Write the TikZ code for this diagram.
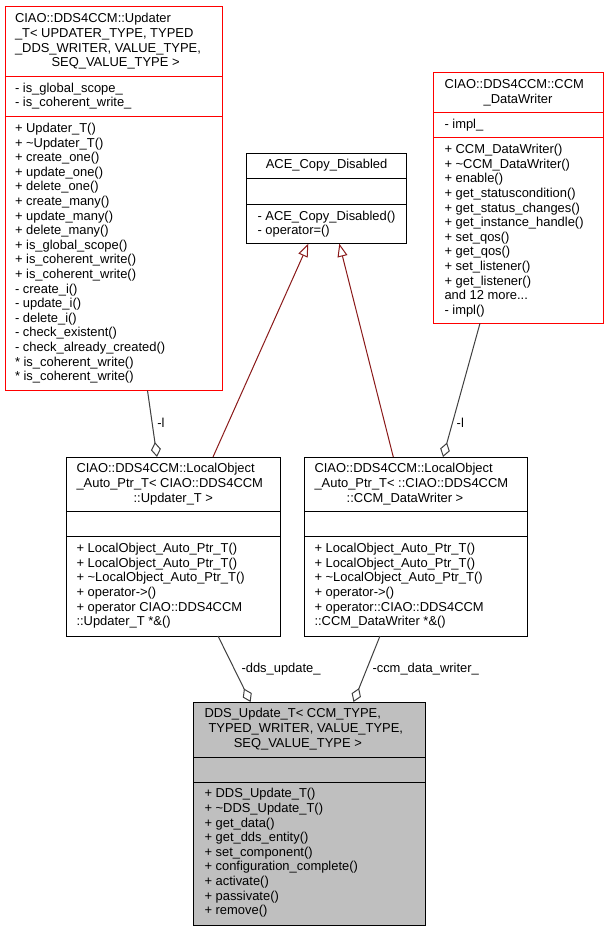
\documentclass[tikz,border=0pt]{standalone}
\usepackage{fontspec}
\setmainfont{Liberation Sans}
\usetikzlibrary{arrows.meta,calc}
\definecolor{umlred}{HTML}{FF0000}
\definecolor{edgegrey}{HTML}{404040}
\definecolor{inhred}{HTML}{8B1A1A}
\definecolor{boxgrey}{HTML}{BFBFBF}
\newcommand\mydots{...}
\tikzset{
  cls/.style={draw=black, line width=0.75pt, anchor=north west, inner sep=0pt, outer sep=0pt},
  ln/.style={anchor=base west, inner sep=0pt, outer sep=0pt, font=\fontsize{9.7}{11.6}\selectfont},
  cln/.style={ln, anchor=base},
  divider/.style={line width=0.75pt},
  agg/.style={draw=edgegrey, line width=0.75pt, {Diamond[open,length=11.25pt,width=7.5pt]}-},
  inh/.style={draw=inhred, line width=0.75pt, -{Triangle[open,length=9.75pt,width=7.5pt]}},
}
\begin{document}
\begin{tikzpicture}[x=0.75pt,y=-0.75pt]
\fill[white] (0,0) rectangle (608,931);
\useasboundingbox (0,0) rectangle (608,931);

% ---------- Updater_T ----------
\node[cls, draw=umlred, minimum width=217*0.75pt, minimum height=383.5*0.75pt] (upd) at (5,7) {};
\draw[divider, umlred] (5,76.3) -- (222,76.3);
\draw[divider, umlred] (5,116.5) -- (222,116.5);
\foreach \t [count=\i from 0] in {{CIAO::DDS4CCM::Updater},{\_T< UPDATER\_TYPE, TYPED},{\_DDS\_WRITER, VALUE\_TYPE,}}
  \node[ln] (updT\i) at (15,23+14.6*\i) {\t};
\node[cln] (updT3) at (115.6,66.8) {SEQ\_VALUE\_TYPE >};
\foreach \t [count=\i from 0] in {{- is\_global\_scope\_},{- is\_coherent\_write\_}}
  \node[ln] (updA\i) at (15,92.2+14.6*\i) {\t};
\foreach \t [count=\i from 0] in {{+ Updater\_T()},{+ \textasciitilde Updater\_T()},{+ create\_one()},{+ update\_one()},{+ delete\_one()},{+ create\_many()},{+ update\_many()},{+ delete\_many()},{+ is\_global\_scope()},{+ is\_coherent\_write()},{+ is\_coherent\_write()},{- create\_i()},{- update\_i()},{- delete\_i()},{- check\_existent()},{- check\_already\_created()},{* is\_coherent\_write()},{* is\_coherent\_write()}}
  \node[ln] (updM\i) at (15,132.4+14.6*\i) {\t};

% ---------- ACE_Copy_Disabled ----------
\node[cls, minimum width=160*0.75pt, minimum height=90.7*0.75pt] (ace) at (246.5,153) {};
\draw[divider] (246.5,178.7) -- (406.5,178.7);
\draw[divider] (246.5,204.2) -- (406.5,204.2);
\node[cln] (aceT) at (326.6,168.9) {ACE\_Copy\_Disabled};
\foreach \t [count=\i from 0] in {{- ACE\_Copy\_Disabled()},{- operator=()}}
  \node[ln] (aceM\i) at (257.5,220.1+14.6*\i) {\t};

% ---------- CCM_DataWriter ----------
\node[cls, draw=umlred, minimum width=169.7*0.75pt, minimum height=250.6*0.75pt] (ccm) at (433.3,72.7) {};
\draw[divider, umlred] (433.3,112.3) -- (603,112.3);
\draw[divider, umlred] (433.3,137.7) -- (603,137.7);
\node[ln] (ccmT0) at (444.5,88.6) {CIAO::DDS4CCM::CCM};
\node[cln] (ccmT1) at (518,103.2) {\_DataWriter};
\node[ln] (ccmA0) at (444.5,128.2) {- impl\_};
\foreach \t [count=\i from 0] in {{+ CCM\_DataWriter()},{+ \textasciitilde CCM\_DataWriter()},{+ enable()},{+ get\_statuscondition()},{+ get\_status\_changes()},{+ get\_instance\_handle()},{+ set\_qos()},{+ get\_qos()},{+ set\_listener()},{+ get\_listener()},{and 12 more\mydots},{- impl()}}
  \node[ln] (ccmM\i) at (444.5,153.6+14.6*\i) {\t};

% ---------- LocalObject_Auto_Ptr_T< Updater_T > ----------
\node[cls, minimum width=214*0.75pt, minimum height=179*0.75pt] (lo1) at (66,457) {};
\draw[divider] (66,511.8) -- (280,511.8);
\draw[divider] (66,536.8) -- (280,536.8);
\foreach \t [count=\i from 0] in {{CIAO::DDS4CCM::LocalObject},{\_Auto\_Ptr\_T< CIAO::DDS4CCM}}
  \node[ln] (lo1T\i) at (76.5,472.9+14.6*\i) {\t};
\node[cln] (lo1T2) at (173.3,502.1) {::Updater\_T >};
\foreach \t [count=\i from 0] in {{+ LocalObject\_Auto\_Ptr\_T()},{+ LocalObject\_Auto\_Ptr\_T()},{+ \textasciitilde LocalObject\_Auto\_Ptr\_T()},{+ operator->()},{+ operator CIAO::DDS4CCM},{::Updater\_T *\&()}}
  \node[ln] (lo1M\i) at (76.5,552.7+14.6*\i) {\t};

% ---------- LocalObject_Auto_Ptr_T< CCM_DataWriter > ----------
\node[cls, minimum width=222.7*0.75pt, minimum height=179*0.75pt] (lo2) at (304.3,457) {};
\draw[divider] (304.3,511.8) -- (527,511.8);
\draw[divider] (304.3,536.8) -- (527,536.8);
\foreach \t [count=\i from 0] in {{CIAO::DDS4CCM::LocalObject},{\_Auto\_Ptr\_T< ::CIAO::DDS4CCM}}
  \node[ln] (lo2T\i) at (314.5,472.9+14.6*\i) {\t};
\node[cln] (lo2T2) at (405,502.1) {::CCM\_DataWriter >};
\foreach \t [count=\i from 0] in {{+ LocalObject\_Auto\_Ptr\_T()},{+ LocalObject\_Auto\_Ptr\_T()},{+ \textasciitilde LocalObject\_Auto\_Ptr\_T()},{+ operator->()},{+ operator::CIAO::DDS4CCM},{::CCM\_DataWriter *\&()}}
  \node[ln] (lo2M\i) at (314.5,552.7+14.6*\i) {\t};

% ---------- DDS_Update_T ----------
\node[cls, fill=boxgrey, minimum width=231.7*0.75pt, minimum height=223*0.75pt] (dds) at (193.3,702) {};
\draw[divider] (193.3,757) -- (425,757);
\draw[divider] (193.3,782) -- (425,782);
\node[ln] (ddsT0) at (204.5,717.9) {DDS\_Update\_T< CCM\_TYPE,};
\node[ln] (ddsT1) at (208.5,732.5) {TYPED\_WRITER, VALUE\_TYPE,};
\node[cln] (ddsT2) at (297.8,747.1) {SEQ\_VALUE\_TYPE >};
\foreach \t [count=\i from 0] in {{+ DDS\_Update\_T()},{+ \textasciitilde DDS\_Update\_T()},{+ get\_data()},{+ get\_dds\_entity()},{+ set\_component()},{+ configuration\_complete()},{+ activate()},{+ passivate()},{+ remove()}}
  \node[ln] (ddsM\i) at (204.5,797.9+14.6*\i) {\t};

% ---------- connectors ----------
\draw[agg] ($(lo1.north west)+(91,0)$) -- ($(upd.south west)+(142.5,0)$);
\draw[inh] ($(lo1.north west)+(147,0)$) -- ($(ace.south west)+(61.8,0)$);
\draw[inh] ($(lo2.north west)+(89,0)$) -- ($(ace.south west)+(92.8,0)$);
\draw[agg] ($(lo2.north west)+(138.7,0)$) -- ($(ccm.south west)+(46.7,0)$);
\draw[agg] ($(dds.north west)+(57.3,0)$) -- ($(lo1.south west)+(152,0)$);
\draw[agg] ($(dds.north west)+(160.2,0)$) -- ($(lo2.south west)+(75.7,0)$);

\node[ln] (lab1) at (157.3,427) {-l};
\node[ln] (lab2) at (456.7,427) {-l};
\node[ln] (lab3) at (241.5,672.5) {-dds\_update\_};
\node[ln] (lab4) at (372.5,672.5) {-ccm\_data\_writer\_};
\end{tikzpicture}
\end{document}
